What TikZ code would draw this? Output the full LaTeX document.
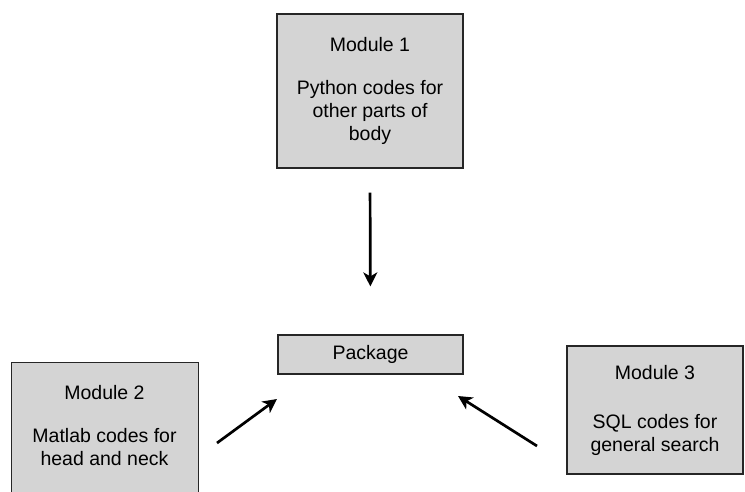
\documentclass[tikz,border=0pt]{standalone}
\usepackage{fontspec}
\setmainfont{Liberation Sans}
\usetikzlibrary{arrows.meta}

\begin{document}
\begin{tikzpicture}[x=1pt, y=-1pt,
  module/.style = {draw=black!85, line width=1.2pt, fill=black!17, inner sep=0pt,
                   align=center, font=\fontsize{19.5}{23}\selectfont},
  txt/.style    = {align=center, font=\fontsize{19.5}{23}\selectfont},
  arrow/.style  = {line width=2.7pt, -{Stealth[length=14pt,width=14pt,inset=4pt]}},
]
  \useasboundingbox (0,0) rectangle (745,491);
  \clip (0,0) rectangle (745,491);

  \node[module, minimum width=186, minimum height=154] (mod1) at (370,91)
    {Module 1\\[20pt]Python codes for\\other parts of\\body};
  \node[module, minimum width=185, minimum height=39] (pkg) at (370.5,354.5) {Package};
  % module 2 runs off the bottom edge
  \node[module, minimum width=187, minimum height=150, anchor=north west] (mod2) at (11,362) {};
  \node[txt] (mod2txt) at (104.5,426) {Module 2\\[20pt]Matlab codes for\\head and neck};
  \node[module, minimum width=176, minimum height=128] (mod3) at (655,410)
    {Module 3\\[26pt]SQL codes for\\general search};

  \coordinate (a2s) at (217,443);
  \coordinate (a2e) at (277,399);
  \coordinate (a3s) at (537,446);
  \coordinate (a3e) at (458,396);

  \draw[arrow, shorten <=24pt, shorten >=48pt] (mod1.south) -- (pkg.north);
  \draw[arrow] (a2s) -- (a2e);
  \draw[arrow] (a3s) -- (a3e);
\end{tikzpicture}
\end{document}
